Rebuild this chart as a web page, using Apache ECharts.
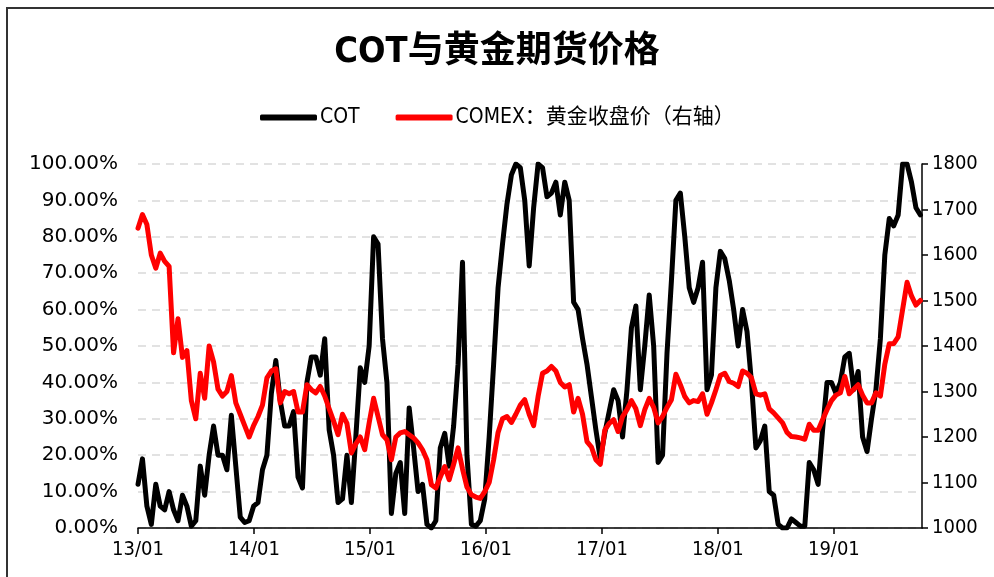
<!DOCTYPE html>
<html>
<head>
<meta charset="utf-8">
<title>COT与黄金期货价格</title>
<script src="https://cdn.jsdelivr.net/npm/echarts@6/dist/echarts.min.js"></script>
<style>
	html, body { margin: 0; padding: 0; background: #fff; }
	#chart { width: 994px; height: 577px; }
</style>
</head>
<body>
<div id="chart"></div>
<script>
// 两周一个点，从2013年1月开始
const startYear = 2013;
const stepDays = 14;
const yearTicks = [2013, 2014, 2015, 2016, 2017, 2018, 2019];

// COT (%)
const cot = [
	12, 19, 6, 1, 12, 6, 5, 10, 5, 2, 9, 6, 0.5, 2, 17, 9, 20, 28, 20, 20,
	16, 31, 17, 3, 1.5, 2, 6, 7, 16, 20, 37, 46, 35, 28, 28, 32, 14, 11, 40, 47,
	47, 42, 52, 27, 20, 7, 8, 20, 7, 25, 44, 40, 50, 80, 78, 52, 40, 4, 15, 18,
	4, 33, 22, 10, 12, 1, 0, 2, 22, 26, 17, 28, 45, 73, 20, 1, 0.5, 2, 8, 25,
	45, 66, 78, 89, 97, 100, 99, 90, 72, 88, 100, 99, 91, 92, 95, 86, 95, 90, 62, 60,
	52, 45, 36, 27, 19, 26, 32, 38, 35, 25, 38, 55, 61, 38, 50, 64, 50, 18, 20, 48,
	68, 90, 92, 80, 66, 62, 66, 73, 38, 42, 66, 76, 74, 68, 60, 50, 60, 54, 40, 22,
	24, 28, 10, 9, 1, 0, 0, 2.5, 1.5, 0.5, 0.5, 18, 16, 12, 27, 40, 40, 37, 40, 47,
	48, 38, 43, 25, 21, 30, 38, 52, 75, 85, 83, 86, 100, 100, 95, 88, 86
];

// COMEX黄金收盘价 (右轴)
const gold = [
	1659, 1689, 1667, 1600, 1571, 1604, 1586, 1575, 1385, 1460, 1375, 1390, 1280, 1240, 1340, 1285, 1400, 1365, 1305, 1290,
	1300, 1335, 1275, 1250, 1225, 1200, 1225, 1245, 1270, 1330, 1345, 1350, 1275, 1300, 1295, 1300, 1255, 1255, 1315, 1304,
	1297, 1311, 1290, 1262, 1235, 1205, 1250, 1230, 1165, 1185, 1200, 1172, 1231, 1285, 1245, 1205, 1194, 1150, 1200, 1209,
	1212, 1205, 1198, 1187, 1172, 1150, 1095, 1088, 1112, 1135, 1106, 1140, 1176, 1130, 1090, 1073, 1068, 1065, 1080, 1100,
	1150, 1210, 1240, 1245, 1232, 1250, 1270, 1282, 1250, 1225, 1289, 1340, 1345, 1355, 1345, 1320, 1310, 1315, 1255, 1285,
	1250, 1190, 1178, 1150, 1140, 1215, 1230, 1238, 1212, 1245, 1260, 1280, 1262, 1225, 1260, 1285, 1265, 1231, 1245, 1265,
	1282, 1338, 1315, 1289, 1275, 1280, 1278, 1295, 1250, 1275, 1304, 1335, 1340, 1322, 1318, 1311, 1345, 1340, 1330, 1295,
	1292, 1295, 1262, 1253, 1242, 1231, 1210, 1201, 1200, 1198, 1195, 1228, 1215, 1215, 1238, 1260, 1280, 1292, 1297, 1333,
	1295, 1305, 1315, 1292, 1275, 1275, 1297, 1290, 1360, 1405, 1405, 1420, 1480, 1540, 1510, 1490, 1500
];

const latinFont = "'Liberation Sans Narrow', 'DejaVu Sans Condensed', 'Noto Sans CJK SC', sans-serif";

function toYear(i) {
	return startYear + (i * stepDays) / 365.25;
}

const chart = echarts.init(document.getElementById("chart"), null, { renderer: "canvas" });

chart.setOption({
	backgroundColor: "#fff",
	animation: false,
	graphic: [
		{
			type: "rect",
			shape: { x: 7, y: 8, width: 1000, height: 600 },
			style: { fill: "none", stroke: "#333", lineWidth: 2 },
			silent: true,
		},
	],
	title: {
		text: "COT与黄金期货价格",
		left: "center",
		top: 35,
		padding: 0,
		textStyle: {
			fontSize: 36,
			fontWeight: "bold",
			color: "#000",
			fontFamily: latinFont,
		},
	},
	legend: {
		left: 260,
		top: 107,
		padding: 0,
		itemGap: 36,
		itemWidth: 57,
		itemHeight: 6,
		icon: "roundRect",
		textStyle: { fontSize: 21, color: "#000", fontFamily: latinFont, padding: [0, 0, 0, -2] },
		data: ["COT", "COMEX：黄金收盘价（右轴）"],
	},
	grid: { left: 138, right: 72, top: 164, bottom: 49 },
	xAxis: {
		type: "value",
		min: 2013,
		max: 2019.76,
		interval: 1,
		axisLine: { show: true, lineStyle: { color: "#000", width: 1.5 } },
		axisTick: { show: true, length: 6, customValues: yearTicks, lineStyle: { color: "#000", width: 1.5 } },
		axisLabel: {
			customValues: yearTicks,
			margin: 12,
			fontSize: 20,
			color: "#000",
			fontFamily: latinFont,
			formatter: (v) => String(Math.round(v)).slice(2) + "/01",
		},
		splitLine: { show: false },
	},
	yAxis: [
		{
			type: "value",
			min: 0,
			max: 100,
			interval: 10,
			axisLine: { show: false },
			axisTick: { show: false },
			axisLabel: {
				margin: 20,
				fontSize: 20,
				color: "#000",
				fontFamily: "'DejaVu Sans', sans-serif",
				formatter: (v) => v.toFixed(2) + "%",
			},
			splitLine: { show: true, lineStyle: { color: "#d9d9d9", width: 1.5, type: [8, 6] } },
		},
		{
			type: "value",
			min: 1000,
			max: 1800,
			interval: 100,
			axisLine: { show: true, lineStyle: { color: "#000", width: 1.5 } },
			axisTick: { show: true, length: 6, lineStyle: { color: "#000", width: 1.5 } },
			axisLabel: {
				margin: 10,
				fontSize: 20,
				color: "#000",
				fontFamily: latinFont,
				formatter: (v) => String(v),
			},
			splitLine: { show: false },
		},
	],
	series: [
		{
			name: "COT",
			type: "line",
			yAxisIndex: 0,
			showSymbol: false,
			symbol: "none",
			lineStyle: { color: "#000", width: 5, join: "round", cap: "round" },
			itemStyle: { color: "#000" },
			data: cot.map((v, i) => [toYear(i), v]),
		},
		{
			name: "COMEX：黄金收盘价（右轴）",
			type: "line",
			yAxisIndex: 1,
			showSymbol: false,
			symbol: "none",
			lineStyle: { color: "#ff0000", width: 5, join: "round", cap: "round" },
			itemStyle: { color: "#ff0000" },
			data: gold.map((v, i) => [toYear(i), v]),
		},
	],
});
</script>
</body>
</html>
